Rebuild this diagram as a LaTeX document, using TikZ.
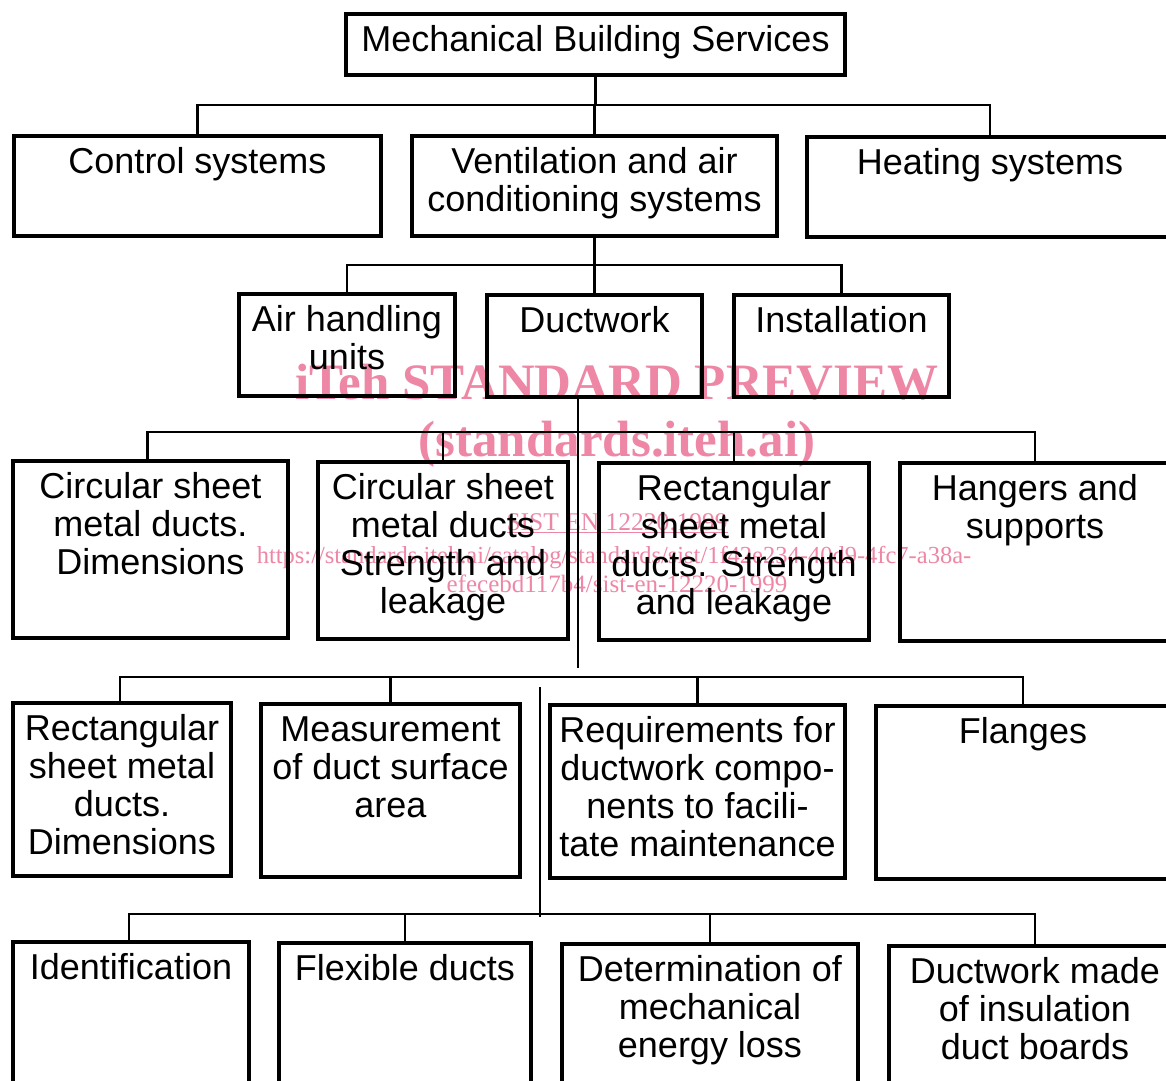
\documentclass[tikz,border=0pt]{standalone}
\usepackage{fontspec}
\setmainfont{Liberation Sans}
\newfontfamily\wmfont{Liberation Serif}
\definecolor{wmpink}{RGB}{238,135,165}
\newcommand\mkbox[6]{%
  \node[bx, minimum width={#4-#2}, minimum height={#5-#3}] (#1) at (#2,#3) {};
  \node[lbl] (#1-t) at ([yshift=-11pt]#1.north) {\strut #6};}
\begin{document}
\begin{tikzpicture}[x=1pt,y=-1pt,
  bx/.style={draw, line width=3.1pt, inner sep=0pt, outer sep=0pt, anchor=north west},
  lbl/.style={anchor=north, align=center, inner sep=0pt, font=\fontsize{36}{38}\selectfont},
  conn/.style={line width=2.6pt},
  wm/.style={text=wmpink, inner sep=0pt, anchor=base}]
\useasboundingbox (0,0) rectangle (1166,1080);
\clip (0,0) rectangle (1166,1080);
\fill[white] (0,0) rectangle (1166,1080);
% watermark (behind)
\node[wm, font=\wmfont\bfseries\fontsize{51}{55}\selectfont] (wm1) at (617,399) {iTeh STANDARD PREVIEW};
\node[wm, font=\wmfont\bfseries\fontsize{51}{55}\selectfont] (wm2) at (617,456) {(standards.iteh.ai)};
\node[wm, font=\wmfont\fontsize{25.5}{28}\selectfont] (wm3) at (617,530) {\underline{SIST EN 12220:1999}};
\node[wm, font=\wmfont\fontsize{24.5}{28}\selectfont] (wm4) at (614,563) {https://standards.iteh.ai/catalog/standards/sist/1f42e234-40d9-4fc7-a38a-};
\node[wm, font=\wmfont\fontsize{25}{28}\selectfont] (wm5) at (617,592) {efecebd117b4/sist-en-12220-1999};
% level 0
\mkbox{top}{346}{14}{845}{75}{Mechanical Building Services}
% level 1
\mkbox{ctrl}{14}{136}{381}{236}{Control systems}
\mkbox{vent}{412}{136}{777}{236}{Ventilation and air\\conditioning systems}
\mkbox{heat}{807}{137}{1173}{237}{Heating systems}
% level 2
\mkbox{ahu}{239}{294}{455}{396}{Air handling\\units}
\mkbox{duct}{487}{295}{702}{397}{Ductwork}
\mkbox{inst}{734}{295}{949}{397}{Installation}
% level 3
\mkbox{cd}{13}{461}{288}{638}{Circular sheet\\metal ducts.\\Dimensions}
\mkbox{cs}{318}{462}{568}{639}{Circular sheet\\metal ducts\\Strength and\\leakage}
\mkbox{rs}{599}{463}{869}{640}{Rectangular\\sheet metal\\ducts. Strength\\and leakage}
\mkbox{hang}{900}{463}{1170}{641}{Hangers and\\supports}
% level 4
\mkbox{rd}{13}{703}{231}{876}{Rectangular\\sheet metal\\ducts.\\Dimensions}
\mkbox{meas}{261}{704}{520}{877}{Measurement\\of duct surface\\area}
\mkbox{req}{550}{705}{845}{878}{Requirements for\\ductwork compo-\\nents to facili-\\tate maintenance}
\mkbox{fl}{876}{706}{1170}{879}{Flanges}
% level 5
\mkbox{ident}{13}{942}{249}{1095}{Identification}
\mkbox{flex}{279}{943}{531}{1095}{Flexible ducts}
\mkbox{det}{562}{944}{858}{1095}{Determination of\\mechanical\\energy loss}
\mkbox{dmade}{889}{946}{1181}{1095}{Ductwork made\\of insulation\\duct boards}
% connectors
\coordinate (b1) at (0,105);
\draw[conn] (top.south) -- (top.south |- b1);
\draw[conn] (ctrl.north) -- (ctrl.north |- b1) -- (heat.north |- b1) -- (heat.north);
\draw[conn] (vent.north) -- (vent.north |- b1);
\coordinate (b2) at (0,265);
\draw[conn] (vent.south) -- (vent.south |- b2);
\draw[conn] (ahu.north) -- (ahu.north |- b2) -- (inst.north |- b2) -- (inst.north);
\draw[conn] (duct.north) -- (duct.north |- b2);
\coordinate (t3a) at (578,397);
\coordinate (t3b) at (578,668);
\draw[conn] (t3a) -- (t3b);
\coordinate (b3) at (0,432);
\draw[conn] ([xshift=-3pt]cd.north) -- ([xshift=-3pt]cd.north |- b3) -- (hang.north |- b3) -- (hang.north);
\draw[conn] (cs.north) -- (cs.north |- b3);
\draw[conn] (rs.north) -- (rs.north |- b3);
\coordinate (b4) at (0,677);
\draw[conn] ([xshift=-2pt]rd.north) -- ([xshift=-2pt]rd.north |- b4) -- (fl.north |- b4) -- (fl.north);
\draw[conn] (meas.north) -- (meas.north |- b4);
\draw[conn] (req.north) -- (req.north |- b4);
\coordinate (t5a) at (540,687);
\coordinate (t5b) at (540,917);
\draw[conn] (t5a) -- (t5b);
\coordinate (b5) at (0,914);
\draw[conn] ([xshift=-2pt]ident.north) -- ([xshift=-2pt]ident.north |- b5) -- (dmade.north |- b5) -- (dmade.north);
\draw[conn] (flex.north) -- (flex.north |- b5);
\draw[conn] (det.north) -- (det.north |- b5);
\end{tikzpicture}
\end{document}
